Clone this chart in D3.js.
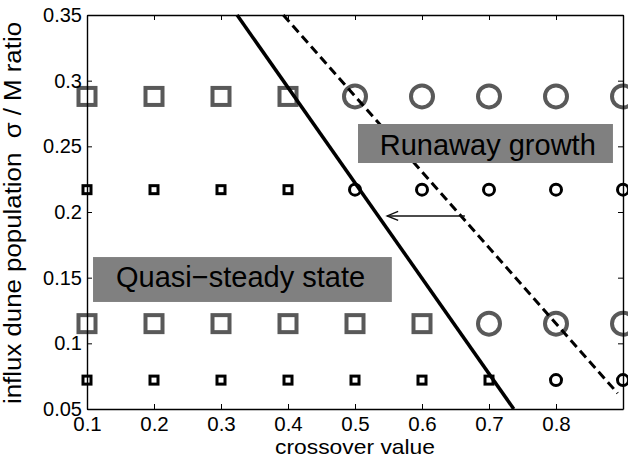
<!DOCTYPE html>
<html>
<head>
<meta charset="utf-8">
<script src="https://cdn.jsdelivr.net/npm/d3@7"></script>
<style>
  html, body { margin: 0; padding: 0; background: #fff; }
  svg { display: block; }
  text { font-family: "Liberation Sans", Arial, Helvetica, sans-serif; fill: #000; }
</style>
</head>
<body>
<svg id="chart" width="628" height="459"></svg>
<script>
// Crossover values sampled along x
const crossover = [0.1, 0.2, 0.3, 0.4, 0.5, 0.6, 0.7, 0.8, 0.9];
// sigma / M levels of the influx dune population (one row of runs each)
const sigmaLevels = [0.072, 0.115, 0.217, 0.288];
// Outcome per run: 0 = quasi-steady state (square), 1 = runaway growth (circle)
const outcome072 = [0, 0, 0, 0, 0, 0, 0, 1, 1];
const outcome115 = [0, 0, 0, 0, 0, 0, 1, 1, 1];
const outcome217 = [0, 0, 0, 0, 1, 1, 1, 1, 1];
const outcome288 = [0, 0, 0, 0, 1, 1, 1, 1, 1];
// Regime boundaries (crossover, sigma/M)
const boundarySolid = [[0.324, 0.35], [0.737, 0.05]];
const boundaryDashed = [[0.393, 0.35], [0.892, 0.062]];
// Shift of the boundary
const shiftArrow = [[0.664, 0.197], [0.548, 0.197]];
// Axis ticks
const xTicks = [0.1, 0.2, 0.3, 0.4, 0.5, 0.6, 0.7, 0.8, 0.9];
const xTickLabels = ["0.1", "0.2", "0.3", "0.4", "0.5", "0.6", "0.7", "0.8", ""];
const yTicks = [0.05, 0.1, 0.15, 0.2, 0.25, 0.3, 0.35];
const yTickLabels = ["0.05", "0.1", "0.15", "0.2", "0.25", "0.3", "0.35"];

const outcomes = [outcome072, outcome115, outcome217, outcome288];

const svg = d3.select("#chart");
const plotLeft = 87, plotRight = 623, plotTop = 15, plotBottom = 409;

const x = d3.scaleLinear().domain([0.1, 0.9]).range([plotLeft, plotRight]);
const y = d3.scaleLinear().domain([0.05, 0.35]).range([plotBottom, plotTop]);

// Markers: large grey for the 0.115 / 0.288 rows, small black for the others
const runs = [];
sigmaLevels.forEach((s, i) => {
  crossover.forEach((c, j) => {
    runs.push({ c, s, runaway: outcomes[i][j] === 1, large: (i % 2) === 1 });
  });
});

const gMarks = svg.append("g");
gMarks.selectAll("rect.run")
  .data(runs.filter(d => !d.runaway))
  .join("rect")
  .attr("class", "run")
  .attr("x", d => x(d.c) - (d.large ? 8.5 : 4))
  .attr("y", d => y(d.s) - (d.large ? 8.5 : 4))
  .attr("width", d => d.large ? 17 : 8)
  .attr("height", d => d.large ? 17 : 8)
  .attr("fill", "none")
  .attr("stroke", d => d.large ? "#595959" : "#000")
  .attr("stroke-width", d => d.large ? 4 : 3);

gMarks.selectAll("circle.run")
  .data(runs.filter(d => d.runaway))
  .join("circle")
  .attr("class", "run")
  .attr("cx", d => x(d.c))
  .attr("cy", d => y(d.s))
  .attr("r", d => d.large ? 11 : 5.5)
  .attr("fill", "none")
  .attr("stroke", d => d.large ? "#595959" : "#000")
  .attr("stroke-width", d => d.large ? 4 : 3);

// Boundaries
const line = d3.line().x(d => x(d[0])).y(d => y(d[1]));
svg.append("path").attr("d", line(boundarySolid))
  .attr("fill", "none").attr("stroke", "#000").attr("stroke-width", 3.5);
svg.append("path").attr("d", line(boundaryDashed))
  .attr("fill", "none").attr("stroke", "#000").attr("stroke-width", 3)
  .attr("stroke-dasharray", "9,5");

// Arrow showing the boundary shift
svg.append("path").attr("d", line(shiftArrow))
  .attr("fill", "none").attr("stroke", "#111").attr("stroke-width", 1.4);
const tip = [x(shiftArrow[1][0]), y(shiftArrow[1][1])];
svg.append("path")
  .attr("d", `M${tip[0] + 11},${tip[1] - 4.5}L${tip[0]},${tip[1]}L${tip[0] + 11},${tip[1] + 4.5}`)
  .attr("fill", "none").attr("stroke", "#111").attr("stroke-width", 1.4);

// Regime labels on grey boxes (positions in data units)
const regimeLabels = [
  { text: "Runaway growth", box: [0.5045, 0.885, 0.2373, 0.267], at: [0.537, 0.2434] },
  { text: "Quasi\u2212steady state", box: [0.109, 0.555, 0.1315, 0.1657], at: [0.1433, 0.1429] }
];
regimeLabels.forEach(l => {
  svg.append("rect")
    .attr("x", x(l.box[0])).attr("y", y(l.box[3]))
    .attr("width", x(l.box[1]) - x(l.box[0]))
    .attr("height", y(l.box[2]) - y(l.box[3]))
    .attr("fill", "#808080");
  svg.append("text")
    .attr("x", x(l.at[0])).attr("y", y(l.at[1]))
    .attr("font-size", 29)
    .text(l.text);
});

// Axes (MATLAB-style box with inward ticks)
const fmtX = d => xTickLabels[xTicks.indexOf(d)];
const fmtY = d => yTickLabels[yTicks.indexOf(d)];

function styleAxis(g, size) {
  g.select(".domain").attr("stroke", "#000").attr("stroke-width", 1.4);
  g.selectAll(".tick line").attr("stroke", "#000").attr("stroke-width", 1);
  g.selectAll(".tick text").attr("font-size", size).attr("font-family", "Liberation Sans, Arial, sans-serif").attr("fill", "#000");
}

svg.append("g").attr("transform", `translate(0,${plotBottom})`)
  .call(d3.axisBottom(x).tickValues(xTicks).tickFormat(fmtX).tickSizeInner(-5).tickSizeOuter(0).tickPadding(7))
  .call(styleAxis, 20.5);
svg.append("g").attr("transform", `translate(0,${plotTop})`)
  .call(d3.axisTop(x).tickValues(xTicks).tickFormat("").tickSizeInner(-5).tickSizeOuter(0))
  .call(styleAxis, 20);
svg.append("g").attr("transform", `translate(${plotLeft},0)`)
  .call(d3.axisLeft(y).tickValues(yTicks).tickFormat(fmtY).tickSizeInner(-5).tickSizeOuter(0).tickPadding(5))
  .call(styleAxis, 20);
svg.append("g").attr("transform", `translate(${plotRight},0)`)
  .call(d3.axisRight(y).tickValues(yTicks).tickFormat("").tickSizeInner(-5).tickSizeOuter(0))
  .call(styleAxis, 20);

// Axis titles
svg.append("text")
  .attr("x", (plotLeft + plotRight) / 2).attr("y", 453.5)
  .attr("text-anchor", "middle")
  .attr("font-size", 21)
  .attr("textLength", 160)
  .attr("lengthAdjust", "spacingAndGlyphs")
  .text("crossover value");

svg.append("text")
  .attr("transform", "translate(20.5,213) rotate(-90)")
  .attr("text-anchor", "middle")
  .attr("font-size", 23)
  .attr("textLength", 382)
  .attr("lengthAdjust", "spacingAndGlyphs")
  .style("white-space", "pre")
  .text("influx dune population  \u03c3 / M ratio");
</script>
</body>
</html>
